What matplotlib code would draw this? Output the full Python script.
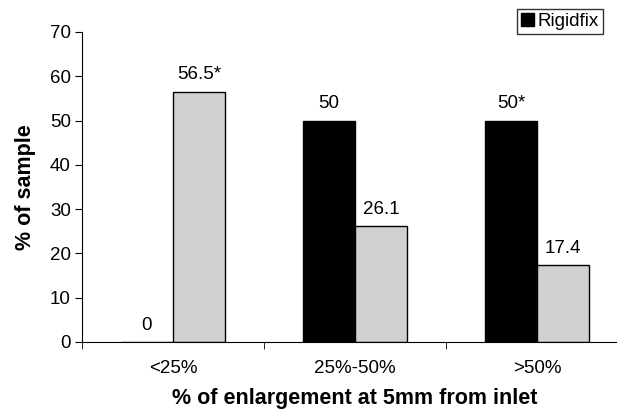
import matplotlib.pyplot as plt
import numpy as np

plt.rcParams.update({
    'font.family': ['Liberation Sans', 'DejaVu Sans'],
    'font.size': 13.5,
})

# data
categories = ['<25%', '25%-50%', '>50%']
rigidfix = [0, 50, 50]
other = [56.5, 26.1, 17.4]
rigidfix_labels = ['0', '50', '50*']
other_labels = ['56.5*', '26.1', '17.4']
yticks = [0, 10, 20, 30, 40, 50, 60, 70]

fig = plt.figure(figsize=(6.17, 4.09), dpi=100)
# axes run past the right edge, like the cropped original
ax = fig.add_axes([82 / 617, 67 / 409, 546 / 617, 310 / 409])

x = np.arange(len(categories))
w = 0.286
b1 = ax.bar(x - w / 2, rigidfix, w, color='black', edgecolor='black', linewidth=1, label='Rigidfix')
b2 = ax.bar(x + w / 2, other, w, color='#D0D1D0', edgecolor='black', linewidth=1)

for rect, txt in zip(b1, rigidfix_labels):
    ax.annotate(txt, (rect.get_x() + rect.get_width() / 2, rect.get_height()),
                xytext=(0, 6), textcoords='offset points', ha='center', va='bottom')
for rect, txt in zip(b2, other_labels):
    ax.annotate(txt, (rect.get_x() + rect.get_width() / 2, rect.get_height()),
                xytext=(0, 6), textcoords='offset points', ha='center', va='bottom')

ax.set_xlim(-0.5, 2.5)
ax.set_ylim(0, 70)
ax.set_yticks(yticks)
ax.set_xticks(x)
ax.set_xticklabels(categories)
ax.set_xticks(np.arange(-0.5, 3, 1), minor=True)
ax.tick_params(axis='x', which='major', length=0, pad=13)
ax.tick_params(axis='x', which='minor', length=5, direction='out')
ax.tick_params(axis='y', length=5, direction='out', pad=3)

for s in ['top', 'right']:
    ax.spines[s].set_visible(False)

ax.set_xlabel('% of enlargement at 5mm from inlet', fontsize=15.5, fontweight='bold', labelpad=8)
ax.set_ylabel('% of sample', fontsize=15.5, fontweight='bold', labelpad=10)

leg = fig.legend(handles=[b1], loc='upper left', bbox_to_anchor=(517 / 617, 1 - 9 / 409),
                 frameon=True, fancybox=False, edgecolor='black', handlelength=0.7,
                 handleheight=0.7, handletextpad=0.2, borderpad=0.2, borderaxespad=0)
leg.get_frame().set_linewidth(1)

fig.savefig('out.png', dpi=100)
